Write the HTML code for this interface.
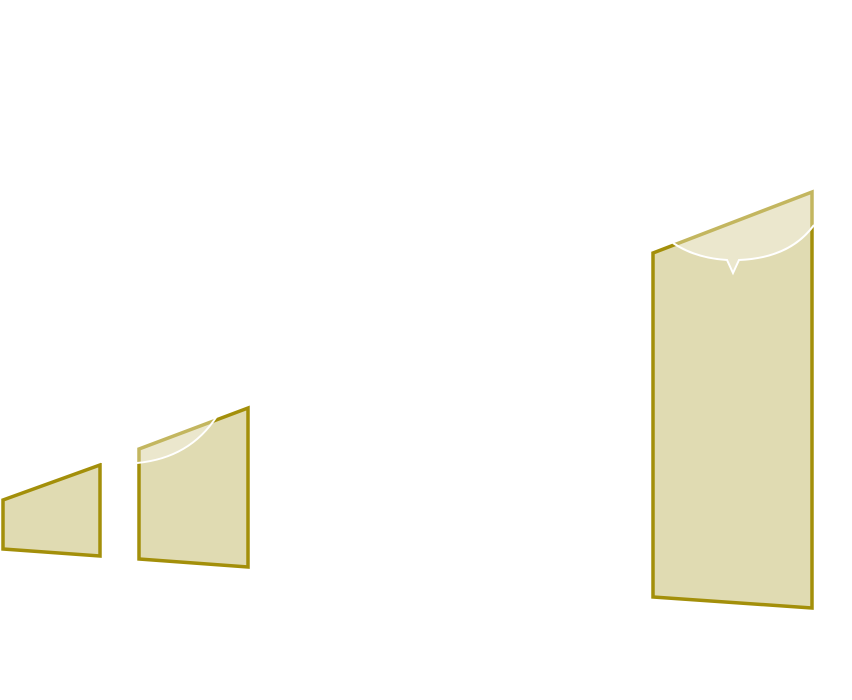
<!DOCTYPE html>
<html><head><meta charset="utf-8"><style>html,body{margin:0;padding:0;background:#fff;width:852px;height:700px;overflow:hidden}</style></head>
<body>
<svg width="852" height="700" viewBox="0 0 852 700" xmlns="http://www.w3.org/2000/svg">
<g fill="#e0dbb2" stroke="#a38f0a" stroke-width="3.5" stroke-linejoin="miter">
<polygon points="3,500 100,465 100,556 3,549"/>
<polygon points="139,449 248,408 248,567 139,559"/>
<polygon points="653,253 812,192 812,608 653,597"/>
</g>
<!-- glossy highlight overlays -->
<path d="M137,463 Q190,458 217,416 L250,405 L137,447 Z" fill="#fff" fill-opacity="0.35"/>
<path d="M137,463 Q190,458 217,416" fill="none" stroke="#fff" stroke-width="2"/>
<path d="M673,243 Q695,258 727,260 L733,273 L739,260 Q790,258 814,225 L814,189 L673,243 Z" fill="#fff" fill-opacity="0.35"/>
<path d="M673,243 Q695,258 727,260 L733,273 L739,260 Q790,258 814,225" fill="none" stroke="#fff" stroke-width="2"/>
<rect x="101" y="459" width="3" height="4" fill="#fff"/>
</svg>
</body></html>
